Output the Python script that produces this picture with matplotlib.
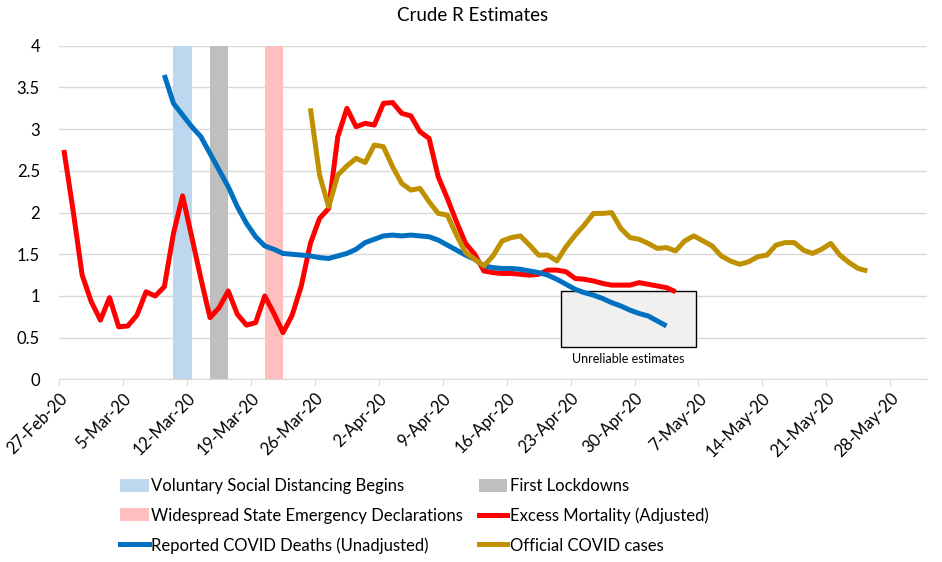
import numpy as np
import matplotlib
matplotlib.use('Agg')
import matplotlib.pyplot as plt
from matplotlib.patches import Patch, Rectangle
from matplotlib.lines import Line2D

plt.rcParams['font.family'] = ['Lato', 'DejaVu Sans']

# ---------------- data ----------------
tick_labels = ['27-Feb-20', '5-Mar-20', '12-Mar-20', '19-Mar-20', '26-Mar-20',
               '2-Apr-20', '9-Apr-20', '16-Apr-20', '23-Apr-20', '30-Apr-20',
               '7-May-20', '14-May-20', '21-May-20', '28-May-20']

# Excess Mortality (Adjusted), daily from 27-Feb (day 0)
excess_start = 0
excess = [2.75, 2.03, 1.25, 0.93, 0.71, 0.98, 0.63, 0.64, 0.77, 1.05,
          1.00, 1.11, 1.75, 2.20, 1.71, 1.21, 0.74, 0.86, 1.06, 0.78,
          0.65, 0.68, 1.00, 0.79, 0.56, 0.77, 1.12, 1.63, 1.93, 2.05,
          2.91, 3.25, 3.03, 3.07, 3.05, 3.31, 3.32, 3.19, 3.16, 2.97,
          2.89, 2.43, 2.17, 1.89, 1.63, 1.50, 1.30, 1.28, 1.27, 1.27,
          1.26, 1.25, 1.26, 1.31, 1.31, 1.29, 1.21, 1.20, 1.18, 1.15,
          1.13, 1.13, 1.13, 1.16, 1.14, 1.12, 1.10, 1.05]

# Reported COVID Deaths (Unadjusted), daily from day 11
deaths_start = 11
deaths = [3.65, 3.31, 3.17, 3.03, 2.91, 2.71, 2.51, 2.31, 2.07, 1.87,
          1.71, 1.60, 1.56, 1.51, 1.50, 1.49, 1.48, 1.46, 1.45, 1.48,
          1.51, 1.56, 1.64, 1.68, 1.72, 1.73, 1.72, 1.73, 1.72, 1.71,
          1.67, 1.61, 1.55, 1.49, 1.44, 1.36, 1.34, 1.33, 1.33, 1.32,
          1.30, 1.28, 1.25, 1.20, 1.14, 1.08, 1.04, 1.01, 0.97, 0.92,
          0.88, 0.83, 0.79, 0.76, 0.70, 0.64]

# Official COVID cases, daily from day 27
cases_start = 27
cases = [3.25, 2.45, 2.07, 2.45, 2.56, 2.65, 2.60, 2.81, 2.79, 2.55,
         2.35, 2.27, 2.29, 2.13, 1.99, 1.97, 1.73, 1.52, 1.44, 1.36,
         1.48, 1.66, 1.70, 1.72, 1.61, 1.49, 1.49, 1.42, 1.59, 1.73,
         1.85, 1.99, 1.99, 2.00, 1.81, 1.70, 1.68, 1.63, 1.57, 1.58,
         1.54, 1.66, 1.72, 1.66, 1.60, 1.48, 1.42, 1.38, 1.41, 1.47,
         1.49, 1.61, 1.64, 1.64, 1.55, 1.51, 1.56, 1.63, 1.49, 1.40,
         1.33, 1.30]

event_names = ['Voluntary Social Distancing Begins', 'First Lockdowns',
               'Widespread State Emergency Declarations']
event_days = [12, 16, 22]
event_colors = ['#BDD7EE', '#BFBFBF', '#FFBFBF']

series_names = ['Excess Mortality (Adjusted)', 'Reported COVID Deaths (Unadjusted)',
                'Official COVID cases']
series_colors = ['#FF0000', '#0070C0', '#BF9000']

y_ticks = [0, 0.5, 1, 1.5, 2, 2.5, 3, 3.5, 4]
y_tick_labels = ['0', '0.5', '1', '1.5', '2', '2.5', '3', '3.5', '4']

# ---------------- figure ----------------
fig = plt.figure(figsize=(9.42, 5.62), dpi=100)
ax = fig.add_axes([0.063, 0.325, 0.9207, 0.5935])

# event bands
for d, c in zip(event_days, event_colors):
    ax.axvspan(d + 0.5, d + 2.5, color=c, lw=0, zorder=1)

# unreliable box
ax.add_patch(Rectangle((55.0, 0.39), 14.7, 0.675, facecolor='#F0F0F0',
                       edgecolor='black', lw=1.0, zorder=2))
ax.text(62.35, 0.25, 'Unreliable estimates', ha='center', va='center',
        fontsize=9, zorder=5)

lw = 3.6
for vals, s0, col in [(excess, excess_start, series_colors[0]),
                      (deaths, deaths_start, series_colors[1]),
                      (cases, cases_start, series_colors[2])]:
    x = np.arange(len(vals)) + s0 + 0.5
    ax.plot(x, vals, color=col, lw=lw, solid_joinstyle='round',
            solid_capstyle='butt', zorder=3)

ax.set_xlim(0, 95)
ax.set_ylim(0, 4)
ax.set_yticks(y_ticks)
ax.set_yticklabels(y_tick_labels, fontsize=12)
ax.set_xticks(np.arange(len(tick_labels)) * 7)
ax.set_xticklabels(tick_labels, rotation=45, ha='right', rotation_mode='anchor',
                   fontsize=12)
ax.tick_params(axis='y', length=0, pad=14)
ax.tick_params(axis='x', length=5, color='#D9D9D9', pad=3)
ax.grid(axis='y', color='#D9D9D9', lw=1)
ax.set_axisbelow(True)
for s in ['top', 'right', 'left']:
    ax.spines[s].set_visible(False)
ax.spines['bottom'].set_color('#D9D9D9')

fig.text(0.502, 0.972, 'Crude R Estimates', ha='center', va='center', fontsize=13.5)

# legend (row-wise order via column-major arrangement)
h_vol = Patch(facecolor=event_colors[0], label=event_names[0])
h_lock = Patch(facecolor=event_colors[1], label=event_names[1])
h_wide = Patch(facecolor=event_colors[2], label=event_names[2])
h_ex = Line2D([], [], color=series_colors[0], lw=lw, label=series_names[0])
h_de = Line2D([], [], color=series_colors[1], lw=lw, label=series_names[1])
h_ca = Line2D([], [], color=series_colors[2], lw=lw, label=series_names[2])
handles = [h_vol, h_wide, h_de, h_lock, h_ex, h_ca]
fig.legend(handles=handles, ncol=2, loc='center', bbox_to_anchor=(0.440, 0.082),
           frameon=False, fontsize=12, handlelength=1.7, handleheight=0.8,
           handletextpad=0.15, columnspacing=0.95, labelspacing=0.8,
           borderaxespad=0)

fig.savefig('out.png', dpi=100)
